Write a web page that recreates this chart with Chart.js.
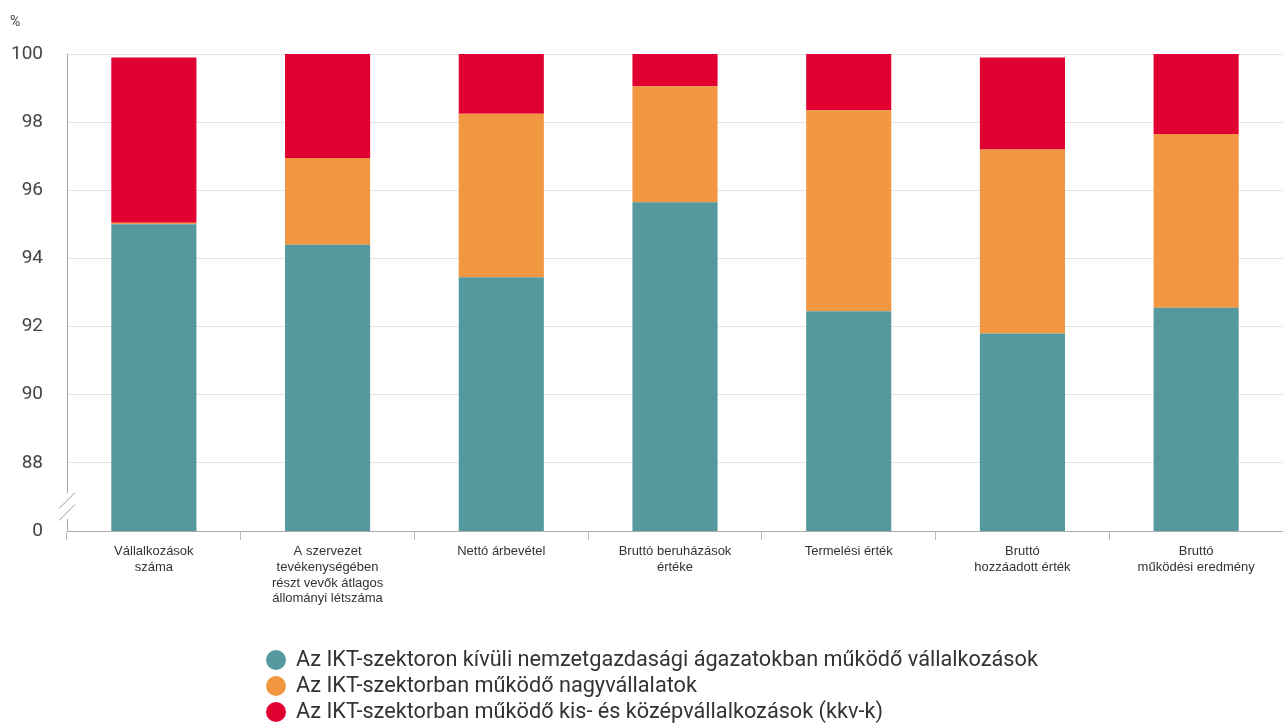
<!DOCTYPE html>
<html>
<head>
<meta charset="utf-8">
<script src="https://cdn.jsdelivr.net/npm/chart.js@4.4.1/dist/chart.umd.min.js"></script>
<style>
  html, body { margin: 0; padding: 0; background: #fff; }
  #wrap { position: relative; width: 1283px; height: 724px; }
</style>
</head>
<body>
<div id="wrap"><canvas id="chart" width="1283" height="724"></canvas></div>
<script>
// categories (multi-line labels)
const categories = [
    ['Vállalkozások', 'száma'],
    ['A szervezet', 'tevékenységében', 'részt vevők átlagos', 'állományi létszáma'],
    ['Nettó árbevétel'],
    ['Bruttó beruházások', 'értéke'],
    ['Termelési érték'],
    ['Bruttó', 'hozzáadott érték'],
    ['Bruttó', 'működési eredmény']
];

const seriesNames = [
    'Az IKT-szektoron kívüli nemzetgazdasági ágazatokban működő vállalkozások',
    'Az IKT-szektorban működő nagyvállalatok',
    'Az IKT-szektorban működő kis- és középvállalkozások (kkv-k)'
];

// shares in %, stacked
const outsideICT = [95.0, 94.4, 93.45, 95.65, 92.45, 91.8, 92.55];
const ictLarge = [0.05, 2.55, 4.8, 3.4, 5.9, 5.4, 5.1];
const ictSme = [4.85, 3.05, 1.75, 0.95, 1.65, 2.7, 2.35];

const colors = ['#55999f', '#f19641', '#e00031'];

// the axis is cut: bottom of the scale stands for 0
const axisBase = 86;
const yTicks = [86, 88, 90, 92, 94, 96, 98, 100];

const axisExtras = {
    id: 'axisExtras',
    afterDraw(chart) {
        const { ctx, chartArea } = chart;
        const yScale = chart.scales.y;
        const x = chartArea.left;

        ctx.save();
        // percent sign above the axis
        ctx.fillStyle = '#444';
        ctx.font = '14px Roboto, sans-serif';
        ctx.textAlign = 'left';
        ctx.textBaseline = 'middle';
        ctx.fillText('%', 10, 22);

        // axis break
        const yTop = yScale.getPixelForValue(axisBase + 1.1);
        const yBot = yScale.getPixelForValue(axisBase + 0.35);
        ctx.fillStyle = '#fff';
        ctx.fillRect(x - 2, yTop, 4, yBot - yTop);
        ctx.strokeStyle = '#999';
        ctx.lineWidth = 1;
        ctx.beginPath();
        ctx.moveTo(x + 8, yTop - 1);
        ctx.lineTo(x - 8, yTop + 15);
        ctx.moveTo(x + 8, yTop + 11);
        ctx.lineTo(x - 8, yTop + 27);
        ctx.stroke();

        // legend, one item per line
        ctx.font = '21.7px Roboto, sans-serif';
        ctx.textBaseline = 'middle';
        chart.data.datasets.forEach((ds, i) => {
            const cy = 660 + i * 26;
            ctx.fillStyle = ds.backgroundColor;
            ctx.beginPath();
            ctx.arc(276, cy, 10, 0, Math.PI * 2);
            ctx.fill();
            ctx.fillStyle = '#333';
            ctx.fillText(ds.label, 296, cy + 1);
        });
        ctx.restore();
    }
};

const datasets = [outsideICT, ictLarge, ictSme].map((values, i) => ({
    label: seriesNames[i],
    data: values,
    backgroundColor: colors[i],
    borderWidth: 0,
    categoryPercentage: 1,
    barPercentage: 0.49
}));

new Chart(document.getElementById('chart').getContext('2d'), {
    type: 'bar',
    data: { labels: categories, datasets },
    options: {
        responsive: false,
        animation: false,
        layout: { padding: { top: 54, right: 0, bottom: 113, left: 0 } },
        scales: {
            x: {
                stacked: true,
                grid: {
                    offset: true,
                    drawOnChartArea: false,
                    drawTicks: true,
                    tickLength: 9,
                    color: '#bbb'
                },
                border: { color: '#aaa' },
                ticks: {
                    color: '#333',
                    font: { family: 'Liberation Sans, Arial, sans-serif', size: 13 },
                    padding: 4,
                    maxRotation: 0,
                    autoSkip: false
                },
                afterFit: (scale) => { scale.height = 80; }
            },
            y: {
                stacked: true,
                min: axisBase,
                max: 100,
                afterBuildTicks: (scale) => {
                    scale.ticks = yTicks.map((v) => ({ value: v }));
                },
                grid: {
                    color: (c) => (c.tick && c.tick.value === axisBase ? 'rgba(0,0,0,0)' : '#e3e3e3'),
                    drawTicks: false
                },
                border: { color: '#aaa' },
                ticks: {
                    color: '#444',
                    font: { family: 'Roboto, sans-serif', size: 19 },
                    padding: 24,
                    callback: (value) => (value === axisBase ? '0' : String(value))
                },
                afterFit: (scale) => { scale.width = 67; }
            }
        },
        plugins: {
            legend: { display: false },
            tooltip: { enabled: false }
        }
    },
    plugins: [axisExtras]
});
</script>
</body>
</html>
